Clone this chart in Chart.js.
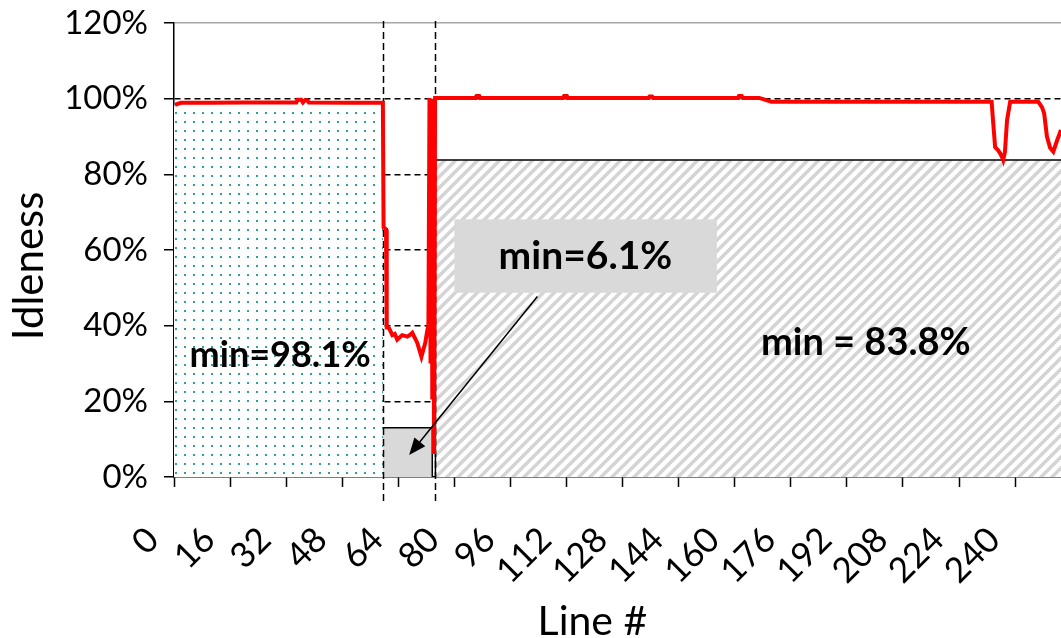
<!DOCTYPE html>
<html>
<head>
<meta charset="utf-8">
<script src="https://cdn.jsdelivr.net/npm/chart.js@4.4.0/dist/chart.umd.min.js"></script>
<style>
  html, body { margin: 0; padding: 0; background: #fff; }
</style>
</head>
<body>
<canvas id="idleChart" width="1061" height="638"></canvas>
<script>
// axis ticks
var xTicks = [0, 16, 32, 48, 64, 80, 96, 112, 128, 144, 160, 176, 192, 208, 224, 240];
var yTicks = [0, 20, 40, 60, 80, 100, 120];

// measured idleness per line (%)
var lineX = [0.3, 2, 10, 20, 30, 34.9, 35.3, 36.3, 36.8, 37.4, 38, 38.5, 50, 59.6,
  59.8, 60.5, 60.7, 61.4, 62.3, 63, 63.7, 65.1, 66.6, 67.4, 68, 69.4, 70.6, 71.7, 72.3,
  72.6, 72.9, 73.2, 73.5, 73.7, 73.9, 74.2, 74.5,
  80, 86, 86.3, 87.1, 87.4, 111, 111.3, 112.1, 112.4, 135.4, 135.7, 136.4, 136.7,
  160.9, 161.2, 162, 162.3, 167, 169, 170.5,
  233.3, 233.7, 234.3, 235.1, 235.7, 236.3, 236.6, 237.1, 237.7, 238.6,
  246.6, 247.7, 248.3, 249.1, 250, 250.9, 252, 253.1];
var lineY = [98.4, 98.9, 98.9, 99, 99, 99, 99.7, 99.7, 99, 99.6, 99.6, 99, 98.9, 98.9,
  66, 65.5, 39.5, 39.3, 37.5, 37.8, 36.3, 37.5, 37.1, 37.6, 38.1, 35.5, 31.8, 35.5, 38.9,
  40, 100.2, 30, 100, 21, 100, 6.1, 100.2,
  100.2, 100.2, 100.7, 100.7, 100.2, 100.2, 100.7, 100.7, 100.2, 100.2, 100.6, 100.6, 100.2,
  100.2, 100.7, 100.7, 100.2, 100.2, 99.6, 99.2,
  99.2, 94.3, 87.2, 86.4, 85.6, 84.5, 83.8, 85.9, 94.3, 99.2,
  99.2, 97.7, 96.1, 89.9, 87, 86, 89, 91.7];

// phase regions (x range, height in %)
var calmX = [0, 59.7];
var calmY = [98.1, 98.1];
var burstX = [59.1, 59.1, 73.7, 73.7];
var burstY = [0, 13, 13, 0];
var restX = [74.6, 74.6, 253.1];
var restY = [0, 83.8, 83.8];
var markerX = [59.7, 74.6];
var noteText = ['min=98.1%', 'min=6.1%', 'min = 83.8%'];

function pts(xs, ys) {
  return xs.map(function (x, i) { return { x: x, y: ys[i] }; });
}

var ctx = document.getElementById('idleChart').getContext('2d');

function dotPattern() {
  var c = document.createElement('canvas');
  c.width = 9; c.height = 9;
  var g = c.getContext('2d');
  g.fillStyle = '#fff'; g.fillRect(0, 0, 9, 9);
  g.fillStyle = '#2f9f9f'; g.fillRect(4, 4, 2, 2);
  return ctx.createPattern(c, 'repeat');
}

function hatchPattern() {
  var s = 11;
  var c = document.createElement('canvas');
  c.width = s; c.height = s;
  var g = c.getContext('2d');
  g.fillStyle = '#fff'; g.fillRect(0, 0, s, s);
  g.strokeStyle = '#d4d4d4'; g.lineWidth = 3.5;
  g.beginPath();
  g.moveTo(-3, s + 3); g.lineTo(s + 3, -3);
  g.moveTo(-3, 3); g.lineTo(3, -3);
  g.moveTo(s - 3, s + 3); g.lineTo(s + 3, s - 3);
  g.stroke();
  return ctx.createPattern(c, 'repeat');
}

var notes = [
  { text: noteText[0], x: 30.3, y: 32.1, size: 36 },
  { text: noteText[1], x: 117.4, y: 58.2, size: 39, box: [80, 48.7, 154.9, 68.1] },
  { text: noteText[2], x: 197.4, y: 35.5, size: 38 }
];
var arrow = { from: [103.7, 47.7], to: [67.1, 5.8] };
// axis titles, centred on these values
var titles = { x: { text: 'Line #', at: 119.4 }, y: { text: 'Idleness', at: 55.8 } };

var guides = {
  id: 'guides',
  beforeDatasetDraw: function (chart, args) {
    if (args.index !== 0) return;
    var x = chart.scales.x, a = chart.chartArea, c = chart.ctx;
    c.save();
    c.strokeStyle = '#000';
    c.lineWidth = 1.5;
    c.setLineDash([7, 4]);
    markerX.forEach(function (v) {
      var px = Math.round(x.getPixelForValue(v)) + 0.5;
      c.beginPath();
      c.moveTo(px, a.top - 2);
      c.lineTo(px, a.bottom + 26);
      c.stroke();
    });
    c.restore();
  },
  afterDatasetsDraw: function (chart) {
    var x = chart.scales.x, y = chart.scales.y, c = chart.ctx;
    c.save();
    notes.forEach(function (n) {
      if (n.box) {
        var x1 = x.getPixelForValue(n.box[0]), y1 = y.getPixelForValue(n.box[3]);
        var x2 = x.getPixelForValue(n.box[2]), y2 = y.getPixelForValue(n.box[1]);
        c.fillStyle = '#d9d9d9';
        c.fillRect(x1, y1, x2 - x1, y2 - y1);
      }
      c.fillStyle = '#000';
      c.font = 'bold ' + n.size + 'px Lato';
      c.textAlign = 'center';
      c.textBaseline = 'middle';
      c.fillText(n.text, x.getPixelForValue(n.x), y.getPixelForValue(n.y));
    });
    var fx = x.getPixelForValue(arrow.from[0]), fy = y.getPixelForValue(arrow.from[1]);
    var tx = x.getPixelForValue(arrow.to[0]), ty = y.getPixelForValue(arrow.to[1]);
    var ang = Math.atan2(ty - fy, tx - fx);
    c.strokeStyle = '#000';
    c.lineWidth = 1.5;
    c.beginPath();
    c.moveTo(fx, fy);
    c.lineTo(tx - 12 * Math.cos(ang), ty - 12 * Math.sin(ang));
    c.stroke();
    c.beginPath();
    c.moveTo(tx, ty);
    c.lineTo(tx - 17 * Math.cos(ang) + 7 * Math.sin(ang), ty - 17 * Math.sin(ang) - 7 * Math.cos(ang));
    c.lineTo(tx - 17 * Math.cos(ang) - 7 * Math.sin(ang), ty - 17 * Math.sin(ang) + 7 * Math.cos(ang));
    c.closePath();
    c.fillStyle = '#000';
    c.fill();

    // axis titles
    c.font = '41px Lato';
    c.textAlign = 'center';
    c.textBaseline = 'alphabetic';
    c.fillText(titles.x.text, x.getPixelForValue(titles.x.at), chart.height - 3);
    c.translate(43, y.getPixelForValue(titles.y.at));
    c.rotate(-Math.PI / 2);
    c.font = '42px Lato';
    c.fillText(titles.y.text, 0, 0);
    c.restore();
  }
};

Chart.defaults.font.family = 'Lato';
Chart.defaults.color = '#000';

new Chart(ctx, {
  type: 'line',
  data: {
    datasets: [
      { label: 'Idleness', data: pts(lineX, lineY), borderColor: '#ff0000', borderWidth: 4,
        pointRadius: 0, fill: false, tension: 0, borderJoinStyle: 'miter' },
      { label: 'calm', data: pts(calmX, calmY), borderColor: 'rgba(0,0,0,0)', borderWidth: 1,
        backgroundColor: dotPattern(), fill: 'origin', pointRadius: 0 },
      { label: 'burst', data: pts(burstX, burstY), borderColor: '#000', borderWidth: 1.5,
        backgroundColor: '#d9d9d9', fill: 'origin', pointRadius: 0 },
      { label: 'rest', data: pts(restX, restY), borderColor: '#000', borderWidth: 1.5,
        backgroundColor: hatchPattern(), fill: 'origin', pointRadius: 0 }
    ]
  },
  options: {
    responsive: false,
    animation: false,
    devicePixelRatio: 1,
    layout: { padding: { top: 23, right: 0, bottom: 0, left: 0 } },
    plugins: { legend: { display: false }, tooltip: { enabled: false } },
    scales: {
      x: {
        type: 'linear',
        min: 0,
        max: 253.1,
        afterBuildTicks: function (s) { s.ticks = xTicks.map(function (v) { return { value: v }; }); },
        afterFit: function (s) { s.height = 161; s.paddingLeft = 0; s.paddingRight = 0; },
        grid: { drawOnChartArea: false, tickLength: 10, tickColor: '#000', tickWidth: 1.5, color: '#000' },
        border: { color: '#000', width: 1.5 },
        ticks: {
          autoSkip: false, minRotation: 45, maxRotation: 45, labelOffset: -21, padding: 32,
          font: { size: 35 },
          callback: function (v) { return String(v); }
        },
        title: { display: false }
      },
      y: {
        min: 0,
        max: 120,
        afterBuildTicks: function (s) { s.ticks = yTicks.map(function (v) { return { value: v }; }); },
        afterFit: function (s) { s.width = 174; s.paddingTop = 0; s.paddingBottom = 0; },
        grid: {
          color: function (c) {
            if (!c.tick || c.tick.value === 0) return 'rgba(0,0,0,0)';
            return c.tick.value === 120 ? '#a6a6a6' : '#000';
          },
          lineWidth: 1.5,
          tickLength: 10, tickColor: '#000', tickWidth: 1.5
        },
        border: {
          color: '#000', width: 1.5,
          dash: function (c) { return c.tick && c.tick.value === 120 ? [] : [6, 4]; }
        },
        ticks: {
          padding: 16,
          font: { size: 33 },
          callback: function (v) { return v + '%'; }
        },
        title: { display: false }
      }
    }
  },
  plugins: [guides]
});
</script>
</body>
</html>
